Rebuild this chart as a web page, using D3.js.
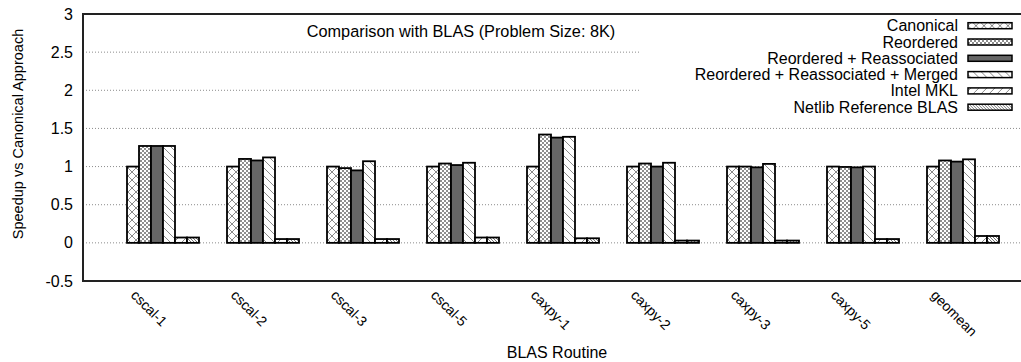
<!DOCTYPE html>
<html lang="en">
<head>
<meta charset="UTF-8">
<title>Comparison with BLAS</title>
<script src="https://d3js.org/d3.v7.min.js"></script>
<style>
  html, body { margin: 0; padding: 0; background: #fff; }
  svg { display: block; font-family: "Liberation Sans", Arial, Helvetica, sans-serif; }
</style>
</head>
<body>
<div id="chart"></div>
<script>
// values
const routines = ["cscal-1", "cscal-2", "cscal-3", "cscal-5", "caxpy-1", "caxpy-2", "caxpy-3", "caxpy-5", "geomean"];
const seriesNames = ["Canonical", "Reordered", "Reordered + Reassociated",
                     "Reordered + Reassociated + Merged", "Intel MKL", "Netlib Reference BLAS"];
const canonical  = [1.00, 1.00, 1.00, 1.00, 1.00, 1.00, 1.00, 1.00, 1.00];
const reordered  = [1.27, 1.10, 0.98, 1.04, 1.42, 1.04, 1.00, 0.995, 1.08];
const reassoc    = [1.27, 1.08, 0.95, 1.02, 1.38, 1.00, 0.99, 0.99, 1.065];
const merged     = [1.27, 1.12, 1.07, 1.05, 1.39, 1.05, 1.035, 1.00, 1.095];
const intelMKL   = [0.07, 0.05, 0.05, 0.07, 0.06, 0.03, 0.03, 0.05, 0.09];
const netlib     = [0.07, 0.05, 0.05, 0.07, 0.06, 0.03, 0.03, 0.05, 0.09];
const yTicks = [-0.5, 0, 0.5, 1, 1.5, 2, 2.5, 3];

const series = [canonical, reordered, reassoc, merged, intelMKL, netlib];
const fills = ["url(#p-cross)", "url(#p-check)", "#666666", "url(#p-back)", "url(#p-fwd)", "url(#p-dense)"];

const W = 1021, H = 362;
const m = { left: 83, top: 14, bottom: 281, right: 1023 };

const svg = d3.select("#chart").append("svg")
    .attr("width", W).attr("height", H);

// hatch patterns
const defs = svg.append("defs");
function pattern(id, size, build) {
  const p = defs.append("pattern").attr("id", id)
      .attr("patternUnits", "userSpaceOnUse")
      .attr("width", size).attr("height", size);
  p.append("rect").attr("width", size).attr("height", size).attr("fill", "#fff");
  build(p, size);
}
const hatch = "#8a8a8a";
pattern("p-cross", 8, (p, s) => p.append("path")
    .attr("d", `M0,0L${s},${s}M${s},0L0,${s}`).attr("stroke", hatch).attr("stroke-width", 1));
pattern("p-check", 4, (p) => {
  p.append("rect").attr("width", 2).attr("height", 2).attr("fill", "#8f8f8f");
  p.append("rect").attr("x", 2).attr("y", 2).attr("width", 2).attr("height", 2).attr("fill", "#8f8f8f");
});
pattern("p-back", 8, (p, s) => p.append("path")
    .attr("d", `M0,0L${s},${s}M${-s / 2},${s / 2}L${s / 2},${s * 1.5}M${s / 2},${-s / 2}L${s * 1.5},${s / 2}`)
    .attr("stroke", hatch).attr("stroke-width", 1));
pattern("p-fwd", 8, (p, s) => p.append("path")
    .attr("d", `M0,${s}L${s},0M${-s / 2},${s / 2}L${s / 2},${-s / 2}M${s / 2},${s * 1.5}L${s * 1.5},${s / 2}`)
    .attr("stroke", hatch).attr("stroke-width", 1));
pattern("p-dense", 3, (p, s) => p.append("path")
    .attr("d", `M0,0L${s},${s}M${-s / 2},${s / 2}L${s / 2},${s * 1.5}M${s / 2},${-s / 2}L${s * 1.5},${s / 2}`)
    .attr("stroke", "#777").attr("stroke-width", 1));

const x = d3.scaleLinear().domain([-0.8, 8.6]).range([m.left, m.right]);
const y = d3.scaleLinear().domain([-0.5, 3]).range([m.bottom, m.top]);
const barW = x(0.12) - x(0);

// grid
svg.append("g").selectAll("line")
  .data(yTicks.filter(t => t > -0.5 && t < 3))
  .join("line")
    .attr("x1", m.left).attr("x2", W)
    .attr("y1", d => y(d)).attr("y2", d => y(d))
    .attr("stroke", "#8c8c8c").attr("stroke-width", 1)
    .attr("stroke-dasharray", "1,2");

// bars
series.forEach((vals, j) => {
  svg.append("g").selectAll("rect")
    .data(vals)
    .join("rect")
      .attr("x", (d, i) => x(i) - 3 * barW + j * barW)
      .attr("width", barW)
      .attr("y", d => y(Math.max(d, 0)))
      .attr("height", d => Math.abs(y(d) - y(0)))
      .attr("fill", fills[j])
      .attr("stroke", "#000")
      .attr("stroke-width", 1.8);
});

// opaque key background
svg.append("rect")
    .attr("x", 639).attr("y", m.top + 2)
    .attr("width", W - 639).attr("height", 100)
    .attr("fill", "#fff");

// border
svg.append("path")
    .attr("d", `M${W},${m.top}H${m.left}V${m.bottom}H${W}`)
    .attr("fill", "none").attr("stroke", "#222").attr("stroke-width", 2);

// y ticks
svg.append("g").selectAll("text")
  .data(yTicks)
  .join("text")
    .attr("x", 73).attr("y", d => y(d))
    .attr("text-anchor", "end").attr("dominant-baseline", "central")
    .attr("font-size", 16).attr("fill", "#000")
    .text(d => d);

// x ticks
svg.append("g").selectAll("text")
  .data(routines)
  .join("text")
    .attr("transform", (d, i) => `translate(${x(i) - 33},296) rotate(45)`)
    .attr("font-size", 14).attr("fill", "#000")
    .text(d => d);

// axis titles
svg.append("text")
    .attr("transform", "translate(23,134) rotate(-90)")
    .attr("text-anchor", "middle")
    .attr("font-size", 14.5).attr("fill", "#000")
    .text("Speedup vs Canonical Approach");
svg.append("text")
    .attr("x", 557).attr("y", 358)
    .attr("text-anchor", "middle")
    .attr("font-size", 16).attr("fill", "#000")
    .text("BLAS Routine");

// title
svg.append("text")
    .attr("x", 461).attr("y", 37)
    .attr("text-anchor", "middle")
    .attr("font-size", 16.3).attr("fill", "#000")
    .text("Comparison with BLAS (Problem Size: 8K)");

// legend
const key = svg.append("g").selectAll("g")
  .data(seriesNames)
  .join("g")
    .attr("transform", (d, i) => `translate(0,${25.7 + i * 16.3})`);
key.append("text")
    .attr("x", 958).attr("y", 0)
    .attr("text-anchor", "end").attr("dominant-baseline", "central")
    .attr("font-size", 16).attr("fill", "#000")
    .text(d => d);
key.append("rect")
    .attr("x", 968).attr("y", -3).attr("width", 44).attr("height", 6)
    .attr("fill", (d, i) => fills[i])
    .attr("stroke", "#000").attr("stroke-width", 1.5);
</script>
</body>
</html>
